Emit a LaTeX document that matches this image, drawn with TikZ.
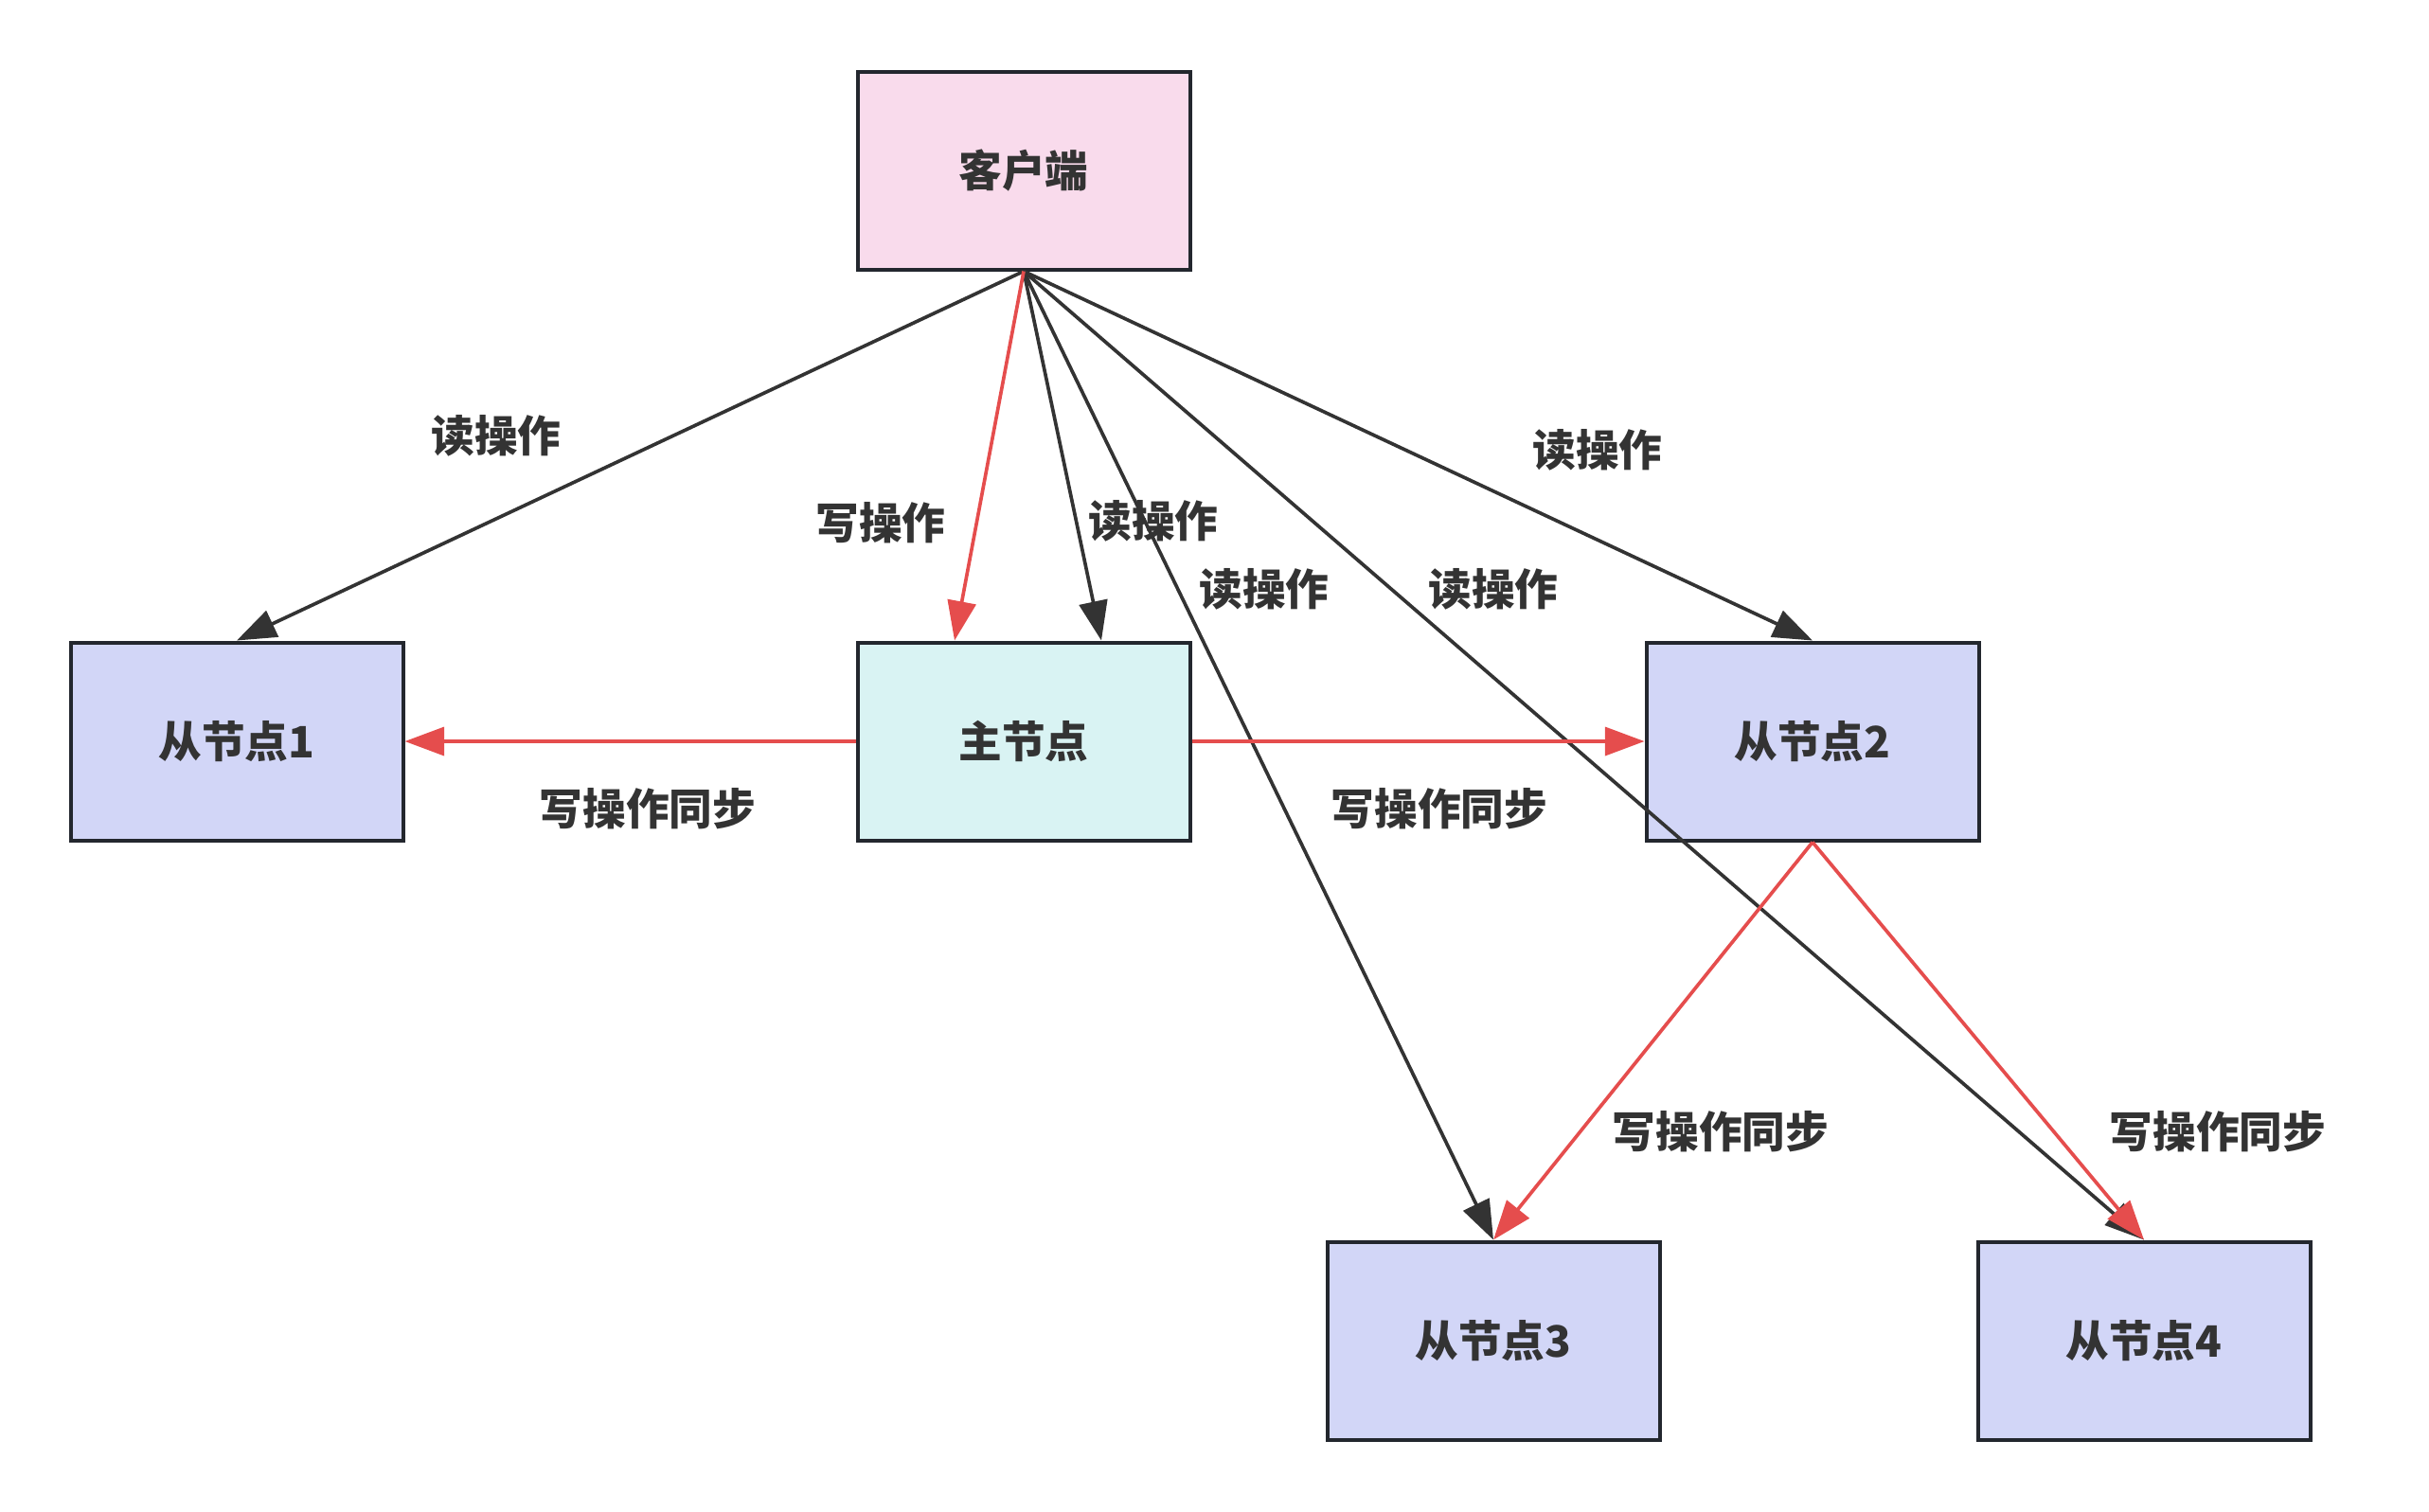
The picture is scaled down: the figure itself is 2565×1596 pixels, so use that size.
\documentclass[tikz,border=0pt]{standalone}
\usepackage{fontspec}
\usepackage{tikz}
\usetikzlibrary{arrows.meta}
\newfontfamily\cjk{Noto Sans CJK SC}

\definecolor{clientpink}{HTML}{F9DBEC}
\definecolor{mastercyan}{HTML}{D9F3F3}
\definecolor{slaveblue}{HTML}{D2D6F7}
\definecolor{boxline}{HTML}{23272E}
\definecolor{edgeblack}{HTML}{333333}
\definecolor{edgered}{HTML}{E54D4D}
\definecolor{textgray}{HTML}{333333}

\tikzset{
  box/.style={draw=boxline, line width=1.2pt, minimum width=105.3pt, minimum height=62.7pt,
    inner sep=0pt, font=\cjk\bfseries\fontsize{13.7pt}{16pt}\selectfont, text=textgray},
  lbl/.style={inner sep=0.75pt, font=\cjk\bfseries\fontsize{13.7pt}{16pt}\selectfont, text=textgray},
  readop/.style={draw=edgeblack, line width=1.1pt, -{Triangle[length=12.5pt,width=9pt]}},
  writeop/.style={draw=edgered, line width=1.1pt, -{Triangle[length=12.5pt,width=9pt]}},
}

\begin{document}
\begin{tikzpicture}[x=0.3pt,y=0.3pt,yscale=-1,xscale=1]
\useasboundingbox (0,0) rectangle (2565,1596);

%Boxes
\node [box, fill=clientpink] (client) at (1081,180) {客户端};
\node [box, fill=mastercyan] (master) at (1081,783) {主节点};
\node [box, fill=slaveblue] (slave1) at (250,783) {从节点1};
\node [box, fill=slaveblue] (slave2) at (1914,783) {从节点2};
\node [box, fill=slaveblue] (slave3) at (1577,1416) {从节点3};
\node [box, fill=slaveblue] (slave4) at (2264,1416) {从节点4};

%Read edges
\draw [readop] (client.south) -- (slave1.north);
\draw [readop] (client.south) -- ([xshift=24.6pt]master.north);
\draw [readop] (client.south) -- (slave3.north);
\draw [readop] (client.south) -- (slave4.north);
\draw [readop] (client.south) -- (slave2.north);

%Write edges
\draw [writeop] (client.south) -- ([xshift=-21.9pt]master.north);
\draw [writeop] (master.west) -- (slave1.east);
\draw [writeop] (master.east) -- (slave2.west);
\draw [writeop] (slave2.south) -- (slave3.north);
\draw [writeop] (slave2.south) -- (slave4.north);

% Text Node
\node [lbl] (rd1) at (524,460) {读操作};
\node [lbl] (wr1) at (930,552) {写操作};
\node [lbl] (rd2) at (1218,550) {读操作};
\node [lbl] (rd3) at (1335,622) {读操作};
\node [lbl] (rd4) at (1577,622) {读操作};
\node [lbl] (rd5) at (1687,475) {读操作};
\node [lbl] (sy1) at (684,854) {写操作同步};
\node [lbl] (sy2) at (1520,854) {写操作同步};
\node [lbl] (sy3) at (1817,1195) {写操作同步};
\node [lbl] (sy4) at (2342,1195) {写操作同步};

\end{tikzpicture}
\end{document}
